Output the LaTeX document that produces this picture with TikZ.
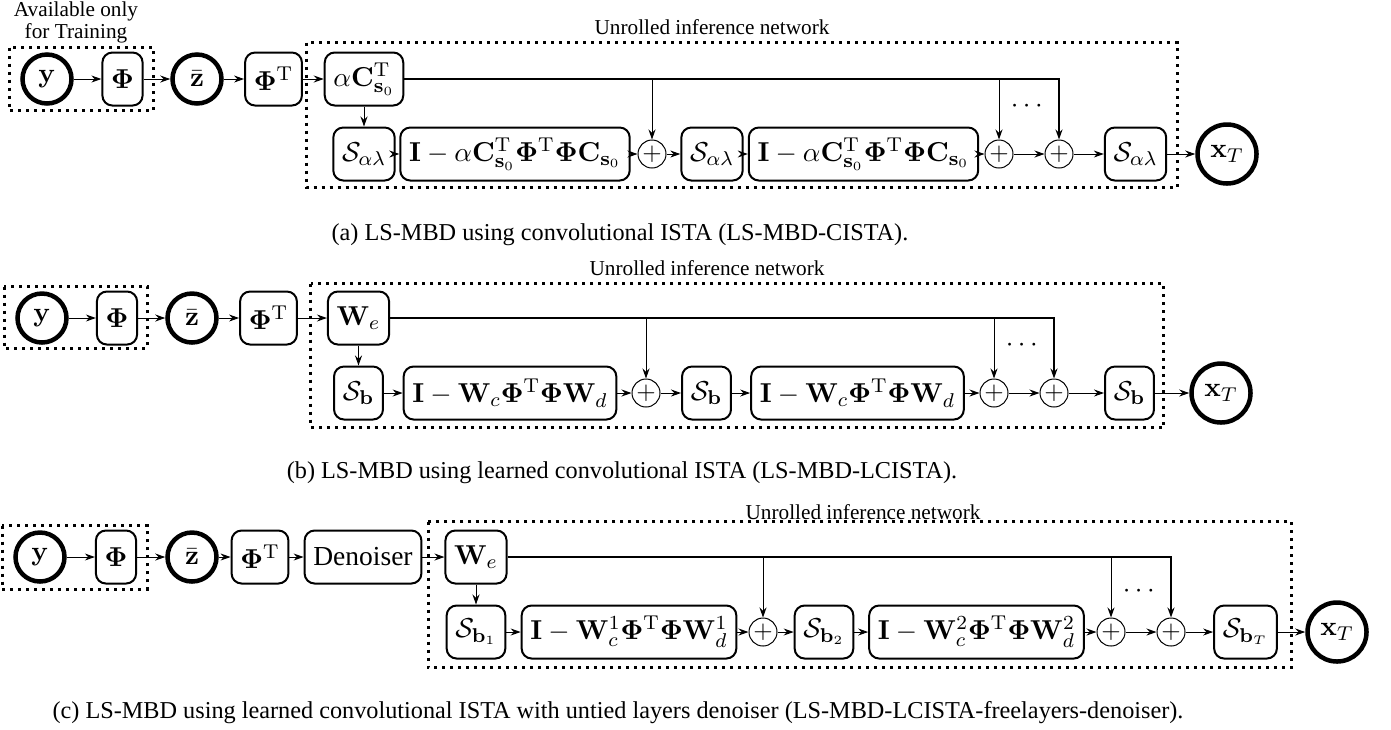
\documentclass[tikz,border=0pt]{standalone}
\usepackage{amsmath,amssymb}
\usepackage[no-math]{fontspec}
\setmainfont{Liberation Serif}
\usepackage{tikz}
\usetikzlibrary{arrows.meta, positioning, calc}

\begin{document}
\begin{tikzpicture}[
  x=0.4pt, y=-0.4pt, font=\fontsize{11}{13}\selectfont, >={Stealth[length=4pt,width=2.8pt]},
  blk/.style={rectangle, rounded corners=4pt, draw, thick, minimum height=21.2pt, inner sep=3.5pt},
  io/.style={circle, draw, line width=1.8pt, minimum size=19.6pt, inner sep=0pt},
  outnode/.style={circle, draw, line width=1.8pt, minimum size=23.6pt, inner sep=0pt},
  sumnode/.style={circle, draw, font=\normalsize, minimum size=11.2pt, inner sep=0pt},
  grp/.style={draw, dotted, line width=1.2pt},
  bus/.style={semithick},
  lbl/.style={font=\fontsize{8.5}{7.4}\selectfont, align=center},
  captext/.style={font=\fontsize{9.7}{12}\selectfont}]
  \useasboundingbox (0,0) rectangle (1391,729);

  %% (a) convolutional ISTA
  \node[io] (ya) at (47,79) {$\mathbf{y}$};
  \node[blk] (Pa) at (122.5,79) {$\mathbf{\Phi}$};
  \node[io] (za) at (197,79) {$\bar{\mathbf{z}}$};
  \node[blk] (PTa) at (273.5,79) {$\mathbf{\Phi}^{\mathrm{T}}$};
  \node[blk] (Ca) at (364,79) {$\alpha\mathbf{C}_{\mathbf{s}_0}^{\mathrm{T}}$};
  \node[blk] (Sa1) at (364,154) {$\mathcal{S}_{\alpha\lambda}$};
  \node[blk] (Ia1) at (515,154) {$\mathbf{I}-\alpha\mathbf{C}_{\mathbf{s}_0}^{\mathrm{T}}\mathbf{\Phi}^{\mathrm{T}}\mathbf{\Phi}\mathbf{C}_{\mathbf{s}_0}$};
  \node[sumnode] (pa1) at (652,154) {$+$};
  \node[blk] (Sa2) at (712,154) {$\mathcal{S}_{\alpha\lambda}$};
  \node[blk] (Ia2) at (863.5,154) {$\mathbf{I}-\alpha\mathbf{C}_{\mathbf{s}_0}^{\mathrm{T}}\mathbf{\Phi}^{\mathrm{T}}\mathbf{\Phi}\mathbf{C}_{\mathbf{s}_0}$};
  \node[sumnode] (pa2) at (999,154) {$+$};
  \node[sumnode] (pa3) at (1059,154) {$+$};
  \node[blk] (Sa3) at (1135.5,154) {$\mathcal{S}_{\alpha\lambda}$};
  \node[outnode] (xa) at (1227,154) {$\mathbf{x}_T$};
  \node (dotsa) at (1029,106) {$\cdots$};
  \draw[grp] ($(ya.west |- Pa.north)+(-11,-4)$) rectangle ($(Pa.south east)+(10,4)$);
  \draw[grp] ($(Ca.north west)+(-17,-9)$) rectangle ($(Sa3.south east)+(10,6)$);
  \node[lbl] (traina) at (76,22) {Available only\\for Training};
  \node[lbl] (unra) at (712,27) {Unrolled inference network};
  \draw[->] (ya) -- (Pa);
  \draw[->] (Pa) -- (za);
  \draw[->] (za) -- (PTa);
  \draw[->] (PTa) -- (Ca);
  \draw[->] (Ca) -- (Sa1);
  \draw[->] (Sa1) -- (Ia1);
  \draw[->] (Ia1) -- (pa1);
  \draw[->] (pa1) -- (Sa2);
  \draw[->] (Sa2) -- (Ia2);
  \draw[->] (Ia2) -- (pa2);
  \draw[->] (pa2) -- (pa3);
  \draw[->] (pa3) -- (Sa3);
  \draw[->] (Sa3) -- (xa);
  \draw[bus, ->] (Ca.east) -| (pa3);
  \draw[->] (Ca.east -| pa1) -- (pa1);
  \draw[->] (Ca.east -| pa2) -- (pa2);
  \node[captext] (capa) at (620,235) {(a) LS-MBD using convolutional ISTA (LS-MBD-CISTA).};

  %% (b) learned convolutional ISTA
  \node[io] (yb) at (42,318) {$\mathbf{y}$};
  \node[blk] (Pb) at (117,318) {$\mathbf{\Phi}$};
  \node[io] (zb) at (192,318) {$\bar{\mathbf{z}}$};
  \node[blk] (PTb) at (268.5,318) {$\mathbf{\Phi}^{\mathrm{T}}$};
  \node[blk] (Web) at (358.5,318) {$\mathbf{W}_e$};
  \node[blk] (Sb1) at (358.5,393) {$\mathcal{S}_{\mathbf{b}}$};
  \node[blk] (Ib1) at (510,393) {$\mathbf{I}-\mathbf{W}_c\mathbf{\Phi}^{\mathrm{T}}\mathbf{\Phi}\mathbf{W}_d$};
  \node[sumnode] (pb1) at (646,393) {$+$};
  \node[blk] (Sb2) at (706.5,393) {$\mathcal{S}_{\mathbf{b}}$};
  \node[blk] (Ib2) at (857.5,393) {$\mathbf{I}-\mathbf{W}_c\mathbf{\Phi}^{\mathrm{T}}\mathbf{\Phi}\mathbf{W}_d$};
  \node[sumnode] (pb2) at (994,393) {$+$};
  \node[sumnode] (pb3) at (1054,393) {$+$};
  \node[blk] (Sb3) at (1129.5,393) {$\mathcal{S}_{\mathbf{b}}$};
  \node[outnode] (xb) at (1221,393) {$\mathbf{x}_T$};
  \node (dotsb) at (1024,345) {$\cdots$};
  \draw[grp] ($(yb.west |- Pb.north)+(-11,-4)$) rectangle ($(Pb.south east)+(9,3)$);
  \draw[grp] ($(Web.north west)+(-16,-7)$) rectangle ($(Sb3.south east)+(9,7)$);
  \node[lbl] (unrb) at (707,268) {Unrolled inference network};
  \draw[->] (yb) -- (Pb);
  \draw[->] (Pb) -- (zb);
  \draw[->] (zb) -- (PTb);
  \draw[->] (PTb) -- (Web);
  \draw[->] (Web) -- (Sb1);
  \draw[->] (Sb1) -- (Ib1);
  \draw[->] (Ib1) -- (pb1);
  \draw[->] (pb1) -- (Sb2);
  \draw[->] (Sb2) -- (Ib2);
  \draw[->] (Ib2) -- (pb2);
  \draw[->] (pb2) -- (pb3);
  \draw[->] (pb3) -- (Sb3);
  \draw[->] (Sb3) -- (xb);
  \draw[bus, ->] (Web.east) -| (pb3);
  \draw[->] (Web.east -| pb1) -- (pb1);
  \draw[->] (Web.east -| pb2) -- (pb2);
  \node[captext] (capb) at (622,473) {(b) LS-MBD using learned convolutional ISTA (LS-MBD-LCISTA).};

  %% (c) untied layers + denoiser
  \node[io] (yc) at (40,557) {$\mathbf{y}$};
  \node[blk] (Pc) at (116,557) {$\mathbf{\Phi}$};
  \node[io] (zc) at (192,557) {$\bar{\mathbf{z}}$};
  \node[blk] (PTc) at (260,557) {$\mathbf{\Phi}^{\mathrm{T}}$};
  \node[blk] (Dc) at (363,557) {Denoiser};
  \node[blk] (Wec) at (476,557) {$\mathbf{W}_e$};
  \node[blk] (Sc1) at (476,632) {$\mathcal{S}_{\mathbf{b}_1}$};
  \node[blk] (Ic1) at (629,632) {$\mathbf{I}-\mathbf{W}_c^1\mathbf{\Phi}^{\mathrm{T}}\mathbf{\Phi}\mathbf{W}_d^1$};
  \node[sumnode] (pc1) at (763,632) {$+$};
  \node[blk] (Sc2) at (824,632) {$\mathcal{S}_{\mathbf{b}_2}$};
  \node[blk] (Ic2) at (976.5,632) {$\mathbf{I}-\mathbf{W}_c^2\mathbf{\Phi}^{\mathrm{T}}\mathbf{\Phi}\mathbf{W}_d^2$};
  \node[sumnode] (pc2) at (1111,632) {$+$};
  \node[sumnode] (pc3) at (1171,632) {$+$};
  \node[blk] (Sc3) at (1245.5,632) {$\mathcal{S}_{\mathbf{b}_T}$};
  \node[outnode] (xc) at (1337,632) {$\mathbf{x}_T$};
  \node (dotsc) at (1141,591) {$\cdots$};
  \draw[grp] ($(yc.west |- Pc.north)+(-11,-4)$) rectangle ($(Pc.south east)+(10,5)$);
  \draw[grp] ($(Wec.north west)+(-16,-8)$) rectangle ($(Sc3.south east)+(14,8)$);
  \node[lbl] (unrc) at (863,512) {Unrolled inference network};
  \draw[->] (yc) -- (Pc);
  \draw[->] (Pc) -- (zc);
  \draw[->] (zc) -- (PTc);
  \draw[->] (PTc) -- (Dc);
  \draw[->] (Dc) -- (Wec);
  \draw[->] (Wec) -- (Sc1);
  \draw[->] (Sc1) -- (Ic1);
  \draw[->] (Ic1) -- (pc1);
  \draw[->] (pc1) -- (Sc2);
  \draw[->] (Sc2) -- (Ic2);
  \draw[->] (Ic2) -- (pc2);
  \draw[->] (pc2) -- (pc3);
  \draw[->] (pc3) -- (Sc3);
  \draw[->] (Sc3) -- (xc);
  \draw[bus, ->] (Wec.east) -| (pc3);
  \draw[->] (Wec.east -| pc1) -- (pc1);
  \draw[->] (Wec.east -| pc2) -- (pc2);
  \node[captext] (capc) at (618,713) {(c) LS-MBD using learned convolutional ISTA with untied layers denoiser (LS-MBD-LCISTA-freelayers-denoiser).};
\end{tikzpicture}
\end{document}
